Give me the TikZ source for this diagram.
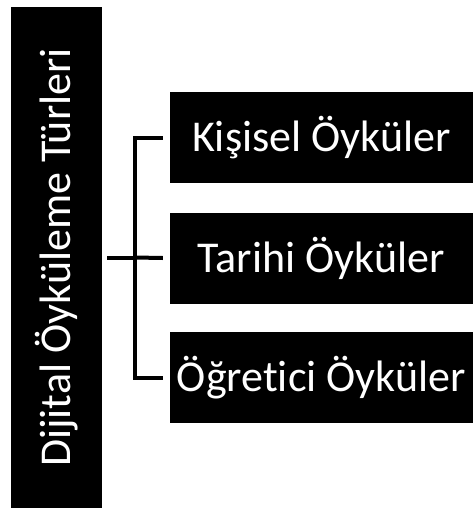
\documentclass[tikz,border=0pt]{standalone}
\usepackage{fontspec}
\setmainfont{Carlito}[Ligatures=NoCommon]
\usetikzlibrary{positioning}

\begin{document}
\begin{tikzpicture}[
x=1pt,y=-1pt,
title/.style={rectangle,fill=black,text=white,font=\fontsize{44}{50}\selectfont,minimum width=501,minimum height=91,inner sep=0,rotate=90},
kind/.style={rectangle,fill=black,text=white,font=\fontsize{44}{50}\selectfont,minimum width=303,minimum height=91,inner sep=0},
link/.style={draw=black,line width=4}
]
\useasboundingbox (0,0) rectangle (473,512);
\node[title] (types) at (56.5,257.5) {Dijital Öyküleme Türleri};
\node[kind] (personal) at (321.5,137.5) {Kişisel Öyküler};
\node[kind] (history) at (321.5,258) {Tarihi Öyküler};
\node[kind] (teaching) at (321.5,377.5) {Öğretici Öyküler};
\coordinate (hub) at (135,257.5);
\draw[link] ([xshift=5]types.south) -- (hub);
\draw[link] ([xshift=-7]personal.west) -| (hub) |- ([xshift=-7]teaching.west);
\draw[link] (hub) -- ([xshift=-7]history.west);
\end{tikzpicture}
\end{document}
